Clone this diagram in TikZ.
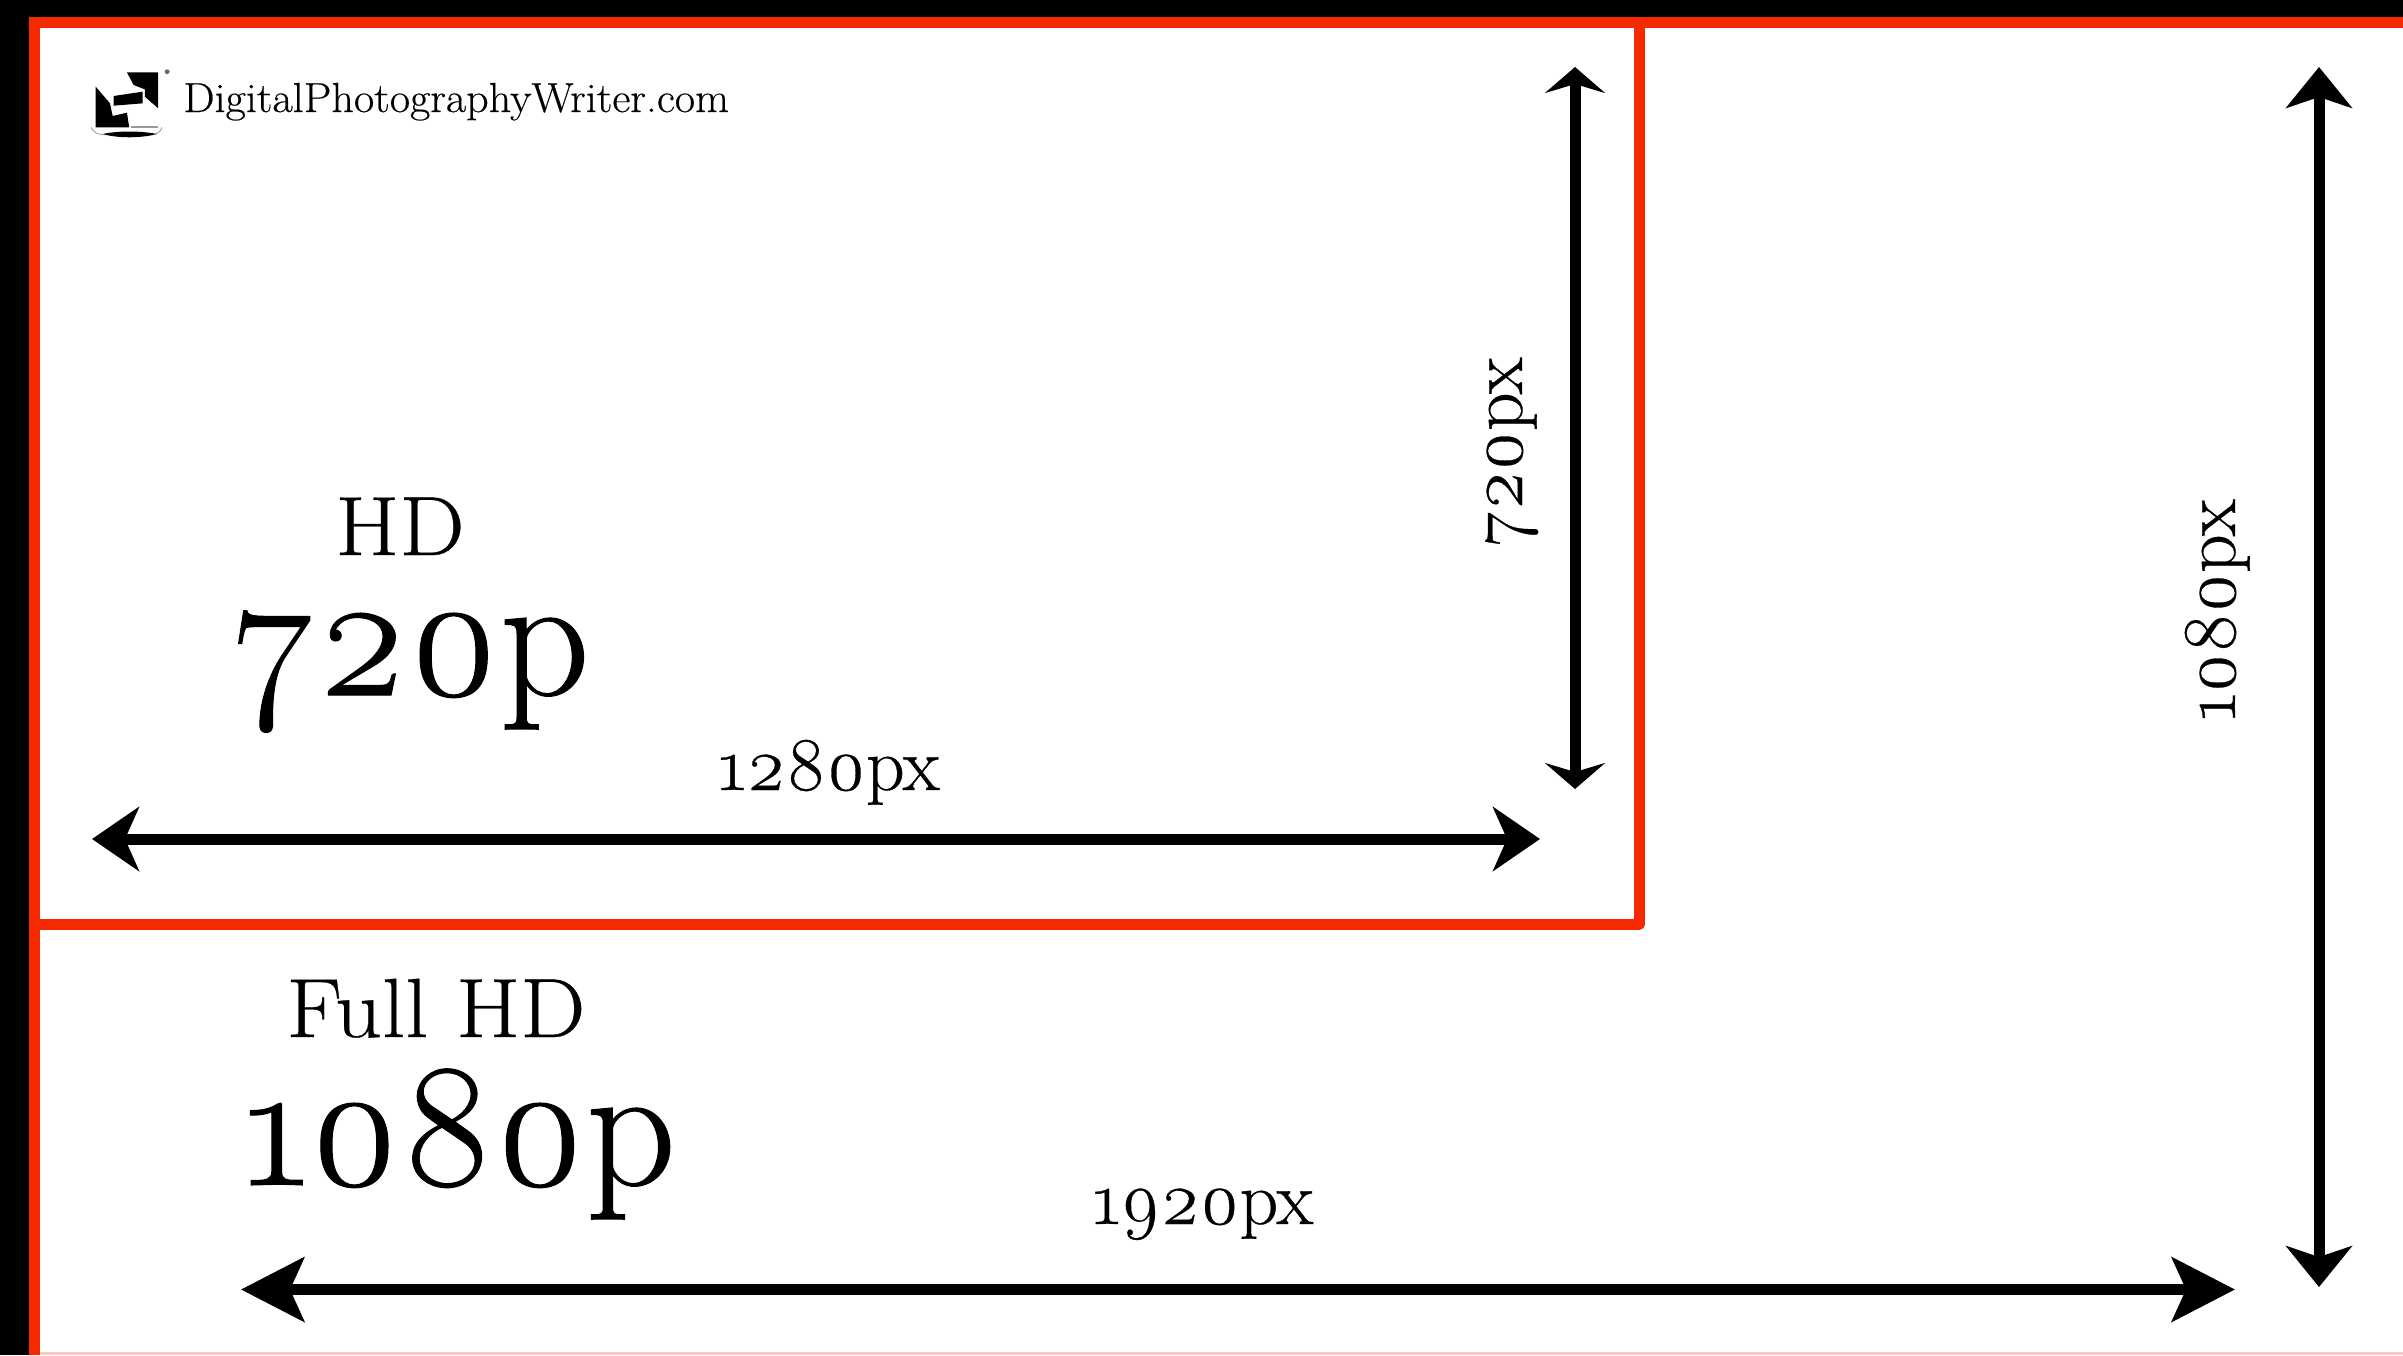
\documentclass[tikz,border=0pt]{standalone}
\usepackage{fontspec}
\setmainfont{Latin Modern Roman}[Numbers=OldStyle]
\newfontfamily\smallface{Latin Modern Roman}[Numbers=OldStyle,FakeStretch=1.0,FakeBold=0.4]
\newfontfamily\midface{Latin Modern Roman}[Numbers=OldStyle,FakeStretch=1.1,FakeBold=0.4]
\newfontfamily\largeface{Latin Modern Roman}[Numbers=OldStyle,FakeStretch=1.0,FakeBold=0.6]
\newfontfamily\siteface{Latin Modern Roman}[Numbers=OldStyle,FakeStretch=1.05,FakeBold=0.4]
\usetikzlibrary{arrows.meta}
\definecolor{framered}{HTML}{F52A00}
\tikzset{
  bigtip/.tip={Stealth[length=31.5pt,width=32pt,inset=7pt]},
  tallhead/.tip={Stealth[length=20.5pt,width=33pt,inset=5.5pt]},
  smallhead/.tip={Stealth[length=13pt,width=30pt,inset=4.5pt]},
  flathead/.tip={Stealth[length=23.5pt,width=32pt,inset=7pt]},
  dim/.style={line width=5.5pt,draw=black},
  redline/.style={line width=5.5pt,draw=framered},
  label/.style={inner sep=0pt,anchor=base,text=black},
  small/.style={label,font=\smallface\fontsize{38}{38}\selectfont},
  mid/.style={label,font=\midface\fontsize{42}{42}\selectfont},
  large/.style={label,font=\largeface\fontsize{88}{88}\selectfont},
}
\begin{document}
\begin{tikzpicture}[x=0.5pt,y=-0.5pt]
\useasboundingbox (0,0) rectangle (2403,1355);
\fill[white] (0,0) rectangle (2403,1355);
\fill[black] (0,0) rectangle (2403,17);
\fill[black] (0,0) rectangle (29,1355);
\fill[framered!25] (29,1352) rectangle (2403,1355);
% outer frame
\draw[redline] (34.5,1355) -- (34.5,22.5) -- (2403,22.5);
% inner frame
\coordinate (a) at (29,924);
\coordinate (b) at (1639.5,924);
\coordinate (c) at (1639.5,22.5);
\draw[redline,line join=round] (a) -- (b) -- (c);
% dimension arrows
\coordinate (w1l) at (92,839);
\coordinate (w1r) at (1540,839);
\coordinate (w2l) at (241,1289.5);
\coordinate (w2r) at (2235,1289.5);
\coordinate (h1t) at (1575,67);
\coordinate (h1b) at (1575,789);
\coordinate (h2t) at (2319,67);
\coordinate (h2b) at (2319,1287);
\draw[dim,{flathead}-{flathead}] (w1l) -- (w1r);
\draw[dim,{bigtip}-{bigtip}] (w2l) -- (w2r);
\draw[dim,{smallhead}-{smallhead}] (h1t) -- (h1b);
\draw[dim,{tallhead}-{tallhead}] (h2t) -- (h2b);
% labels
\node[mid] (hd) at (400,555) {HD};
\node[large] (p720) at (411,695) {720p};
\node[mid] (fhd) at (436,1037) {Full HD};
\node[large] (p1080) at (460,1185) {1080p};
\node[small] (w1280) at (829,790) {1280px};
\node[small] (w1920) at (1203,1224) {1920px};
\node[small,rotate=90] (h720) at (1522,452) {720px};
\node[small,rotate=90] (h1080) at (2235,610) {1080px};
\node[label,anchor=base west,font=\siteface\fontsize{21}{21}\selectfont] (site) at (183,112) {DigitalPhotographyWriter.com};
% logo
\begin{scope}[shift={(60,40)},x=0.2232pt,y=-0.1667pt]
\fill[black] (150,97) -- (220,97) -- (220,205) -- (190,170) -- (190,148) -- (165,135) -- cycle;
\fill[black] (120,168) -- (185,155) -- (185,190) -- (120,197) -- cycle;
\fill[black] (80,140) -- (112,190) -- (118,228) -- (150,218) -- (155,262) -- (80,262) -- cycle;
\fill[black] (95,282) .. controls (130,272) and (180,272) .. (218,282) .. controls (180,295) and (130,295) .. (95,282) -- cycle;
\draw[black!40,line width=0.4pt] (70,262) .. controls (75,280) and (85,282) .. (100,285);
\draw[black!40,line width=0.4pt] (228,262) .. controls (226,275) and (220,280) .. (210,283);
\fill[black!40] (160,258) rectangle (220,264);
\fill[black!60] (240,95) circle (1.2pt);
\end{scope}
\end{tikzpicture}
\end{document}
